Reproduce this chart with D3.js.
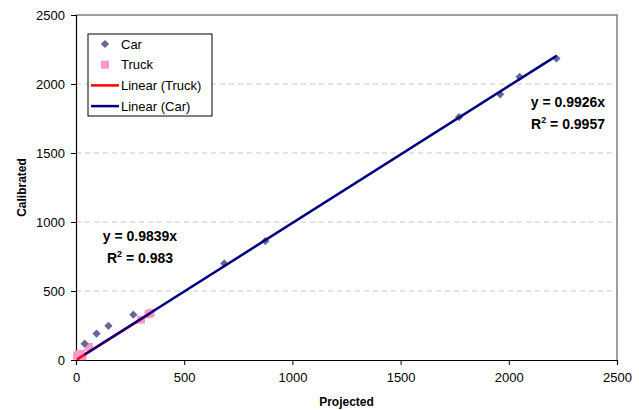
<!DOCTYPE html>
<html>
<head>
<meta charset="utf-8">
<script src="https://cdn.jsdelivr.net/npm/d3@7"></script>
<style>
  body { margin: 0; background: #fff; }
  text { font-family: Arial, "Liberation Sans", sans-serif; }
</style>
</head>
<body>
<div class="chart"></div>
<script>
var width = 639,
    height = 410;

// data
var carX = [40, 95, 150, 265, 685, 875, 1770, 1960, 2050, 2220];
var carY = [118, 192, 248, 328, 700, 862, 1760, 1925, 2052, 2185];
var truckX = [5, 12, 18, 24, 30, 60, 300, 335, 345];
var truckY = [30, 42, 35, 45, 28, 95, 292, 332, 342];
var carSlope = 0.9926, carR2 = 0.9957;
var truckSlope = 0.9839, truckR2 = 0.983;
var ticks = [0, 500, 1000, 1500, 2000, 2500];
var legendLabels = ["Car", "Truck", "Linear (Truck)", "Linear (Car)"];

var margin = {left: 76, right: 22, top: 15, bottom: 50};

var svg = d3.select(".chart").append("svg")
    .attr("width", width)
    .attr("height", height);

var x = d3.scaleLinear().domain([0, 2500]).range([margin.left, width - margin.right]);
var y = d3.scaleLinear().domain([0, 2500]).range([height - margin.bottom, margin.top]);

// gridlines
svg.append("g").selectAll("line")
    .data(ticks.filter(d => d > 0 && d < 2500))
    .join("line")
    .attr("x1", x(0)).attr("x2", x(2500))
    .attr("y1", d => y(d)).attr("y2", d => y(d))
    .style("stroke", "#c8c8c8")
    .style("stroke-dasharray", "5,4");

// plot border top/right
svg.append("path")
    .attr("d", `M${x(0)},${y(2500)}H${x(2500)}V${y(0)}`)
    .style("fill", "none")
    .style("stroke", "#808080")
    .style("stroke-width", 1.5);

var xAxis = svg.append("g")
    .attr("transform", `translate(0,${y(0)})`)
    .call(d3.axisBottom(x).tickValues(ticks).tickFormat(d3.format("d")).tickSize(5).tickPadding(8));
var yAxis = svg.append("g")
    .attr("transform", `translate(${x(0)},0)`)
    .call(d3.axisLeft(y).tickValues(ticks).tickFormat(d3.format("d")).tickSize(5).tickPadding(6));

[xAxis, yAxis].forEach(function (a) {
    a.selectAll("text").style("font-size", "13px").style("fill", "#000");
    a.select(".domain").style("stroke", "#000").style("stroke-width", 1.2);
    a.selectAll(".tick line").style("stroke", "#000");
});

// axis titles
svg.append("text")
    .attr("x", (x(0) + x(2500)) / 2)
    .attr("y", 406)
    .attr("text-anchor", "middle")
    .style("font-size", "12px")
    .style("font-weight", "bold")
    .text("Projected");

svg.append("text")
    .attr("transform", `translate(26,${(y(0) + y(2500)) / 2}) rotate(-90)`)
    .attr("text-anchor", "middle")
    .style("font-size", "12px")
    .style("font-weight", "bold")
    .text("Calibrated");

var diamond = d3.symbol().type(d3.symbolSquare).size(34);

// truck points
svg.append("g").selectAll("rect")
    .data(truckX.map((d, i) => [d, truckY[i]]))
    .join("rect")
    .attr("x", d => x(d[0]) - 4)
    .attr("y", d => y(d[1]) - 4)
    .attr("width", 8)
    .attr("height", 8)
    .style("fill", "#ff99cc");

// car points
svg.append("g").selectAll("path")
    .data(carX.map((d, i) => [d, carY[i]]))
    .join("path")
    .attr("d", diamond)
    .attr("transform", d => `translate(${x(d[0])},${y(d[1])}) rotate(45)`)
    .style("fill", "#666699");

// trendlines
svg.append("line")
    .attr("x1", x(d3.min(truckX))).attr("y1", y(truckSlope * d3.min(truckX)))
    .attr("x2", x(d3.max(truckX))).attr("y2", y(truckSlope * d3.max(truckX)))
    .style("stroke", "#ff0000")
    .style("stroke-width", 2.5);

svg.append("line")
    .attr("x1", x(d3.min(carX))).attr("y1", y(carSlope * d3.min(carX)))
    .attr("x2", x(d3.max(carX))).attr("y2", y(carSlope * d3.max(carX)))
    .style("stroke", "#000080")
    .style("stroke-width", 2.5);

// equation labels
function eqLabel(cx, cy, slope, r2) {
    var g = svg.append("g")
        .style("font-size", "14px")
        .style("font-weight", "bold");
    g.append("text")
        .attr("x", cx).attr("y", cy)
        .attr("text-anchor", "middle")
        .text("y = " + slope + "x");
    var t = g.append("text")
        .attr("x", cx).attr("y", cy + 22)
        .attr("text-anchor", "middle");
    t.append("tspan").text("R");
    t.append("tspan").attr("dy", -6).style("font-size", "9px").text("2");
    t.append("tspan").attr("dy", 6).text(" = " + r2);
}
eqLabel(568, 107, carSlope, carR2);
eqLabel(140, 241, truckSlope, truckR2);

// legend
var legend = svg.append("g").attr("transform", "translate(88,34)");
legend.append("rect")
    .attr("width", 124).attr("height", 82)
    .style("fill", "#fff")
    .style("stroke", "#000");

var rowY = d => 10 + d * 20.7;
legendLabels.forEach(function (label, i) {
    var cy = rowY(i);
    if (i == 0) {
        legend.append("path").attr("d", diamond)
            .attr("transform", `translate(17,${cy}) rotate(45)`)
            .style("fill", "#666699");
    } else if (i == 1) {
        legend.append("rect")
            .attr("x", 13).attr("y", cy - 4)
            .attr("width", 8).attr("height", 8)
            .style("fill", "#ff99cc");
    } else {
        legend.append("line")
            .attr("x1", 3).attr("x2", 31)
            .attr("y1", cy).attr("y2", cy)
            .style("stroke", i == 2 ? "#ff0000" : "#000080")
            .style("stroke-width", 2.5);
    }
    legend.append("text")
        .attr("x", 33).attr("y", cy + 4.5)
        .style("font-size", "13px")
        .text(label);
});
</script>
</body>
</html>
